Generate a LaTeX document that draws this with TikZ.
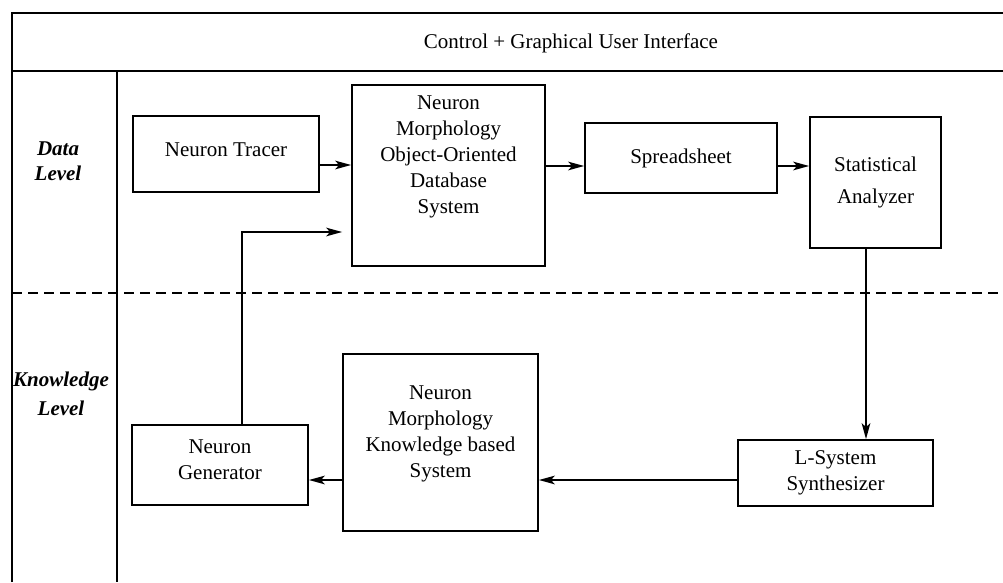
\documentclass[tikz,border=0pt]{standalone}
\usepackage{fontspec}
\setmainfont{Liberation Serif}
\usetikzlibrary{arrows.meta}
\tikzset{
  blk/.style={draw, line width=1.3pt, inner sep=0pt, align=center, font=\fontsize{15.75}{19.5}\selectfont},
  txt/.style={inner sep=0pt, align=center, font=\fontsize{15.75}{19.5}\selectfont},
  lvl/.style={inner sep=0pt, align=center, font=\fontsize{15.75}{19}\selectfont\bfseries\itshape},
  arr/.style={-{Stealth[length=12pt,width=6.5pt,inset=3pt]}, line width=1.3pt},
}
\begin{document}
\begin{tikzpicture}[x=0.75pt, y=-0.75pt]
    \useasboundingbox (0,0) rectangle (1003,582);
    % Frame
    \draw[line width=1.3pt] (12,582) -- (12,13) -- (1003,13);
    \draw[line width=1.3pt] (12,71) -- (1003,71);
    \draw[line width=1.3pt] (117,71) -- (117,582);
    \node[txt] (gui) at (571,43) {Control + Graphical User Interface};
    % Levels
    \draw[line width=1.3pt, dash pattern=on 7.5pt off 4.5pt] (12,293) -- (1003,293);
    \node[lvl] (datalvl) at (58,161) {Data\\Level};
    \node[lvl] (knowlvl) at (61,394) {Knowledge\\[3pt]Level};
    % Data level
    \node[blk, minimum width=139.5pt, minimum height=57pt] (tracer) at (226,154) {};
    \node[txt] (tracertext) at (226,150) {Neuron Tracer};
    \node[blk, minimum width=144.75pt, minimum height=135.75pt] (oodb) at (448.5,175.5) {};
    \node[txt] (oodbtext) at (448.5,157) {Neuron\\Morphology\\Object-Oriented\\Database\\System};
    \node[blk, minimum width=144pt, minimum height=52.5pt] (sheet) at (681,158) {Spreadsheet};
    \node[blk, minimum width=98.25pt, minimum height=98.25pt] (stat) at (875.5,182.5) {Statistical\\[5pt]Analyzer};
    % Knowledge level
    \node[blk, minimum width=146.25pt, minimum height=49.5pt] (lsys) at (835.5,473) {L-System\\Synthesizer};
    \node[blk, minimum width=146.25pt, minimum height=132.75pt] (kbs) at (440.5,442.5) {};
    \node[txt] (kbstext) at (440.5,434) {Neuron\\Morphology\\Knowledge based\\System};
    \node[blk, minimum width=132pt, minimum height=60pt] (gen) at (220,465) {};
    \node[txt] (gentext) at (220,460) {Neuron\\Generator};
    % Arrows
    \draw[arr] (tracer.east |- 0,165) -- (oodb.west |- 0,165);
    \draw[arr] (oodb.east |- 0,166) -- (sheet.west |- 0,166);
    \draw[arr] (sheet.east |- 0,166) -- (stat.west |- 0,166);
    \draw[arr] (stat.south -| 866,0) -- (lsys.north -| 866,0);
    \draw[arr] (lsys.west |- 0,480) -- (kbs.east |- 0,480);
    \draw[arr] (kbs.west |- 0,480) -- (gen.east |- 0,480);
    \draw[arr, shorten >=6.75pt] (gen.north -| 242,0) -- (242,232) -- (oodb.west |- 0,232);
\end{tikzpicture}
\end{document}
